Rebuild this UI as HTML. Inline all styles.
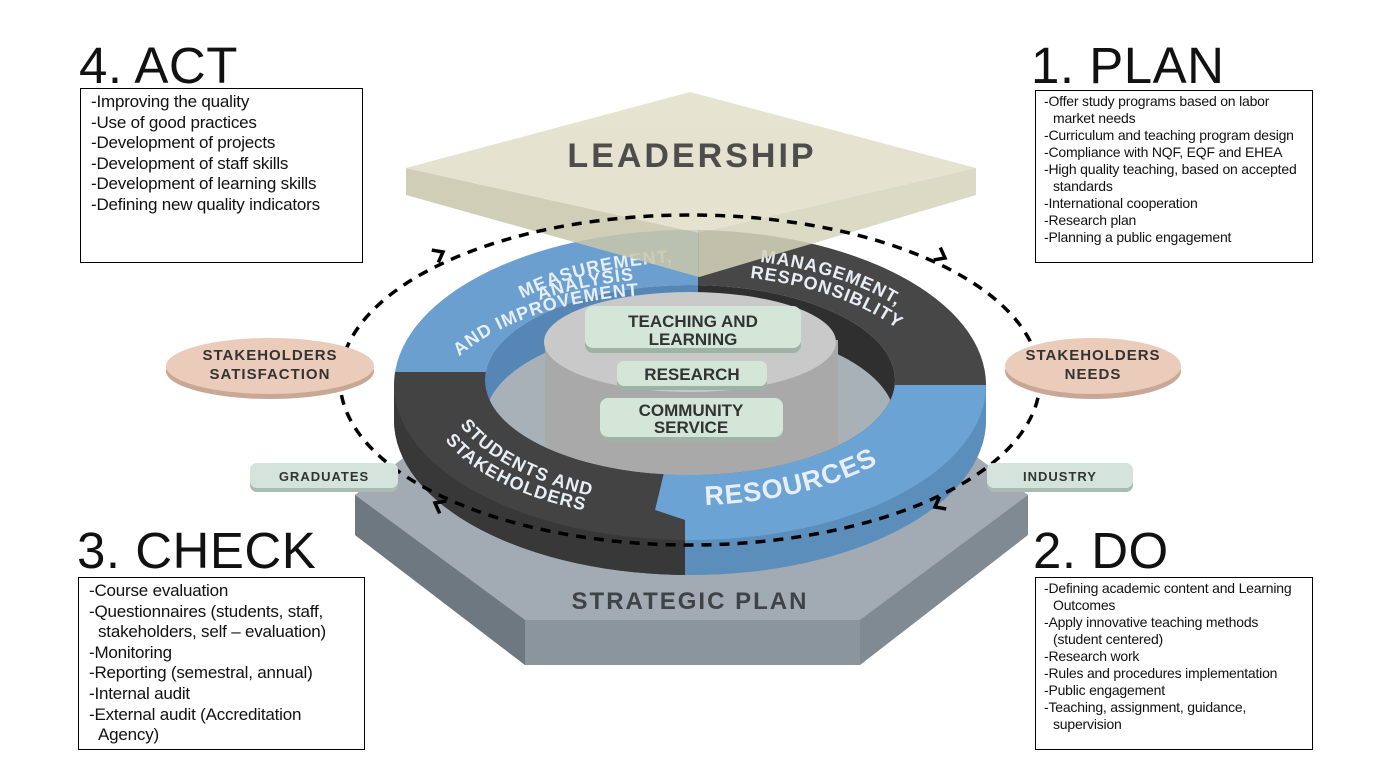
<!DOCTYPE html>
<html><head><meta charset="utf-8"><style>
body{margin:0;width:1379px;height:775px;background:#fff;overflow:hidden;font-family:"Liberation Sans",sans-serif;position:relative}
.t{position:absolute;font-size:51px;color:#111;letter-spacing:0.5px;line-height:1}
.b{position:absolute;border:1.5px solid #000;box-sizing:border-box;color:#111}
.b div{padding-left:9px;text-indent:-9px}
.L{font-size:17px;line-height:20.6px;padding:3px 4px 0 10px;letter-spacing:-0.2px}
.R{font-size:14px;line-height:17px;padding:2px 2px 0 8px;letter-spacing:-0.2px}
</style></head><body>
<svg width="1379" height="775" style="position:absolute;left:0;top:0" font-family="Liberation Sans, sans-serif">
<defs>
<clipPath id="tl"><rect x="0" y="0" width="698" height="372"/></clipPath>
<clipPath id="tr"><rect x="698" y="0" width="700" height="385"/></clipPath>
<clipPath id="br"><polygon points="685,385 1400,385 1400,800 685,800 685,520 655,510"/></clipPath>
<clipPath id="bl"><polygon points="0,372 698,372 698,385 685,385 655,510 685,520 685,800 0,800"/></clipPath>
<clipPath id="hole"><ellipse cx="690" cy="380" rx="205" ry="95"/></clipPath>
</defs>
<polygon points="355,495 440,430 940,430 1028,495 1028,535 860,665 525,665 355,535" fill="#7f8a93"/>
<polygon points="355,495 440,430 940,430 1028,495 860,620 525,620" fill="#a2abb3"/>
<polygon points="355,495 525,620 525,665 355,535" fill="#6e7881"/>
<polygon points="525,620 860,620 860,665 525,665" fill="#8a959e"/>
<text x="690" y="609" text-anchor="middle" font-size="24" font-weight="bold" fill="#3f4347" letter-spacing="2">STRATEGIC PLAN</text>
<g clip-path="url(#bl)"><path d="M394,385 L394,420 A296,155 0 0 0 986,420 L986,385 Z" fill="#383838"/><ellipse cx="690" cy="420" rx="296" ry="155" fill="#383838"/></g>
<g clip-path="url(#br)"><path d="M394,385 L394,420 A296,155 0 0 0 986,420 L986,385 Z" fill="#5c8ebc"/><ellipse cx="690" cy="420" rx="296" ry="155" fill="#5c8ebc"/></g>
<path d="M394,385 A296,155 0 1 0 986,385 A296,155 0 1 0 394,385 Z M485,380 A205,95 0 1 1 895,380 A205,95 0 1 1 485,380 Z" fill-rule="evenodd" fill="#6a9fd0" clip-path="url(#tl)"/>
<path d="M394,385 A296,155 0 1 0 986,385 A296,155 0 1 0 394,385 Z M485,380 A205,95 0 1 1 895,380 A205,95 0 1 1 485,380 Z" fill-rule="evenodd" fill="#474747" clip-path="url(#tr)"/>
<path d="M394,385 A296,155 0 1 0 986,385 A296,155 0 1 0 394,385 Z M485,380 A205,95 0 1 1 895,380 A205,95 0 1 1 485,380 Z" fill-rule="evenodd" fill="#6aa3d4" clip-path="url(#br)"/>
<path d="M394,385 A296,155 0 1 0 986,385 A296,155 0 1 0 394,385 Z M485,380 A205,95 0 1 1 895,380 A205,95 0 1 1 485,380 Z" fill-rule="evenodd" fill="#434343" clip-path="url(#bl)"/>
<g clip-path="url(#hole)">
<rect x="485" y="280" width="213" height="200" fill="#5586b6"/>
<rect x="698" y="280" width="200" height="200" fill="#2f2f2f"/>
<ellipse cx="690" cy="420" rx="205" ry="95" fill="#a8b1b8"/>
<rect x="545" y="340" width="293" height="160" fill="#a9a9a9"/>
<ellipse cx="690" cy="342" rx="146" ry="50" fill="#c9c9c9"/>
</g>
<g font-weight="bold" fill="#333" text-anchor="middle">
<rect x="585" y="309" width="216" height="44" rx="8" fill="#9fb2a6"/><rect x="585" y="306" width="216" height="42" rx="8" fill="#d3e6d8"/>
<text x="693" y="327" font-size="17">TEACHING AND</text><text x="693" y="345" font-size="17">LEARNING</text>
<rect x="617" y="364" width="150" height="26" rx="7" fill="#9fb2a6"/><rect x="617" y="361" width="150" height="25" rx="7" fill="#d3e6d8"/>
<text x="692" y="380" font-size="17">RESEARCH</text>
<rect x="600" y="401" width="183" height="40" rx="8" fill="#9fb2a6"/><rect x="600" y="398" width="183" height="39" rx="8" fill="#d3e6d8"/>
<text x="691" y="416" font-size="17">COMMUNITY</text><text x="691" y="433" font-size="17">SERVICE</text>
</g>
<path id="a1" d="M470,340 A240,120 0 0 1 690,262" fill="none"/>
<path id="a2" d="M455,355 A240,120 0 0 1 690,278" fill="none"/>
<path id="a3" d="M445,372 A240,120 0 0 1 690,295" fill="none"/>
<path id="a4" d="M760,262 A250,125 0 0 1 935,340" fill="none"/>
<path id="a5" d="M750,278 A245,122 0 0 1 920,350" fill="none"/>
<path id="a6" d="M460,425 A250,125 0 0 0 650,505" fill="none"/>
<path id="a7" d="M445,440 A250,125 0 0 0 640,518" fill="none"/>
<path id="a8" d="M705,505 A260,130 0 0 0 900,450" fill="none"/>
<g fill="#e8eef5" font-weight="bold" font-size="18" letter-spacing="1">
<text><textPath href="#a1" startOffset="28%">MEASUREMENT,</textPath></text>
<text><textPath href="#a2" startOffset="40%">ANALYSIS</textPath></text>
<text><textPath href="#a3" startOffset="8%">AND IMPROVEMENT</textPath></text>
<text><textPath href="#a4">MANAGEMENT,</textPath></text>
<text><textPath href="#a5">RESPONSIBLITY</textPath></text>
<text><textPath href="#a6">STUDENTS AND</textPath></text>
<text><textPath href="#a7">STAKEHOLDERS</textPath></text>
<text font-size="27"><textPath href="#a8">RESOURCES</textPath></text>
</g>
<g opacity="0.86">
<polygon points="406,168 699,233 976,168 976,195 699,277 406,195" fill="#c9c7ab"/>
<polygon points="699,233 976,168 976,195 699,277" fill="#d6d4bb"/>
<polygon points="406,168 690,92 976,168 699,233" fill="#e1dfc8"/>
</g>
<text x="692" y="167" text-anchor="middle" font-size="34" font-weight="bold" fill="#4d4d4d" letter-spacing="3">LEADERSHIP</text>
<ellipse cx="690" cy="380" rx="350" ry="165" fill="none" stroke="#000" stroke-width="3.5" stroke-dasharray="10,8"/>
<g fill="none" stroke="#000" stroke-width="3.5" stroke-linejoin="miter">
<path d="M-9,-7 L0,0 L-9,7" transform="translate(443,252) rotate(-28)"/>
<path d="M-9,-7 L0,0 L-9,7" transform="translate(945,258) rotate(28)"/>
<path d="M-9,-7 L0,0 L-9,7" transform="translate(935,507) rotate(152)"/>
<path d="M-9,-7 L0,0 L-9,7" transform="translate(435,503) rotate(208)"/>
</g>
<ellipse cx="270" cy="371" rx="104" ry="28" fill="#c8a797"/><ellipse cx="270" cy="366" rx="104" ry="28" fill="#ebcbba"/>
<text x="270" y="360" text-anchor="middle" font-size="15" font-weight="bold" fill="#333" letter-spacing="1">STAKEHOLDERS</text>
<text x="270" y="379" text-anchor="middle" font-size="15" font-weight="bold" fill="#333" letter-spacing="1">SATISFACTION</text>
<ellipse cx="1093" cy="371" rx="88" ry="28" fill="#c8a797"/><ellipse cx="1093" cy="366" rx="88" ry="28" fill="#ebcbba"/>
<text x="1093" y="360" text-anchor="middle" font-size="15" font-weight="bold" fill="#333" letter-spacing="1">STAKEHOLDERS</text>
<text x="1093" y="379" text-anchor="middle" font-size="15" font-weight="bold" fill="#333" letter-spacing="1">NEEDS</text>
<rect x="250" y="466" width="148" height="26" rx="7" fill="#a9bcb1"/><rect x="250" y="463" width="148" height="25" rx="7" fill="#d4e4dc"/>
<text x="324" y="481" text-anchor="middle" font-size="13" font-weight="bold" fill="#333" letter-spacing="1">GRADUATES</text>
<rect x="987" y="466" width="146" height="26" rx="7" fill="#a9bcb1"/><rect x="987" y="463" width="146" height="25" rx="7" fill="#d4e4dc"/>
<text x="1060" y="481" text-anchor="middle" font-size="13" font-weight="bold" fill="#333" letter-spacing="1">INDUSTRY</text>
</svg>

<div class="t" style="left:79px;top:40px">4. ACT</div>
<div class="b L" style="left:80px;top:88px;width:283px;height:175px">
<div>-Improving the quality</div><div>-Use of good practices</div><div>-Development of projects</div><div>-Development of staff skills</div><div>-Development of learning skills</div><div>-Defining new quality indicators</div></div>

<div class="t" style="left:1031px;top:40px">1. PLAN</div>
<div class="b R" style="left:1035px;top:90px;width:278px;height:173px">
<div>-Offer study programs based on labor market needs</div><div>-Curriculum and teaching program design</div><div>-Compliance with NQF, EQF and EHEA</div><div>-High quality teaching, based on accepted standards</div><div>-International cooperation</div><div>-Research plan</div><div>-Planning a public engagement</div></div>

<div class="t" style="left:77px;top:525px">3. CHECK</div>
<div class="b L" style="left:78px;top:577px;width:287px;height:173px">
<div>-Course evaluation</div><div>-Questionnaires (students, staff, stakeholders, self – evaluation)</div><div>-Monitoring</div><div>-Reporting (semestral, annual)</div><div>-Internal audit</div><div>-External audit (Accreditation Agency)</div></div>

<div class="t" style="left:1033px;top:525px">2. DO</div>
<div class="b R" style="left:1035px;top:577px;width:278px;height:173px">
<div>-Defining academic content and Learning Outcomes</div><div>-Apply innovative teaching methods (student centered)</div><div>-Research work</div><div>-Rules and procedures implementation</div><div>-Public engagement</div><div>-Teaching, assignment, guidance, supervision</div></div>
</body></html>
